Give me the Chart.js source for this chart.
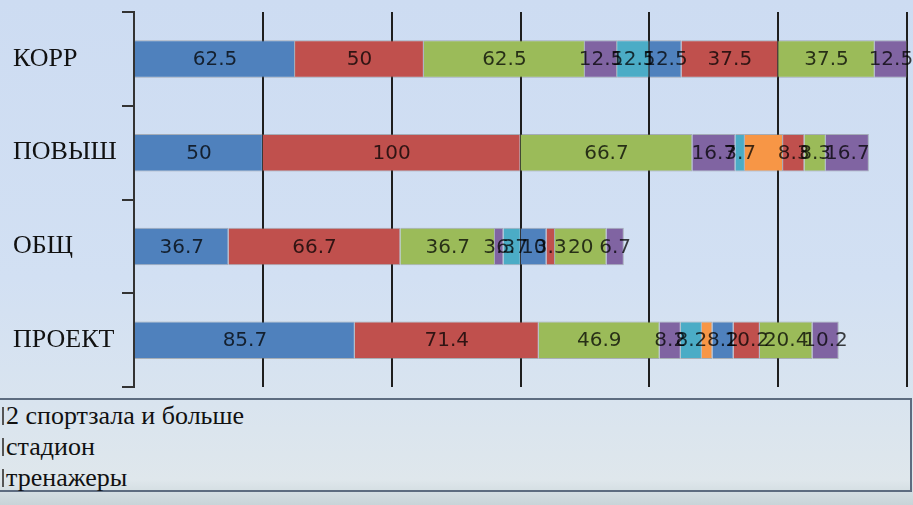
<!DOCTYPE html>
<html>
<head>
<meta charset="utf-8">
<script src="https://cdn.jsdelivr.net/npm/chart.js@4/dist/chart.umd.min.js"></script>
<style>
    html, body {
        margin: 0;
        padding: 0;
    }
    body {
        width: 913px;
        height: 505px;
        overflow: hidden;
        position: relative;
        background: linear-gradient(to bottom, #cddcf2 0%, #d2e0f3 55%, #d9e4ef 80%, #dfe7ec 95%, #c8d4d8 100%);
    }
    #chartBox {
        position: absolute;
        left: 0;
        top: 0;
        width: 913px;
        height: 395px;
    }
    #legend {
        position: absolute;
        left: -2px;
        top: 398px;
        width: 910px;
        height: 90px;
        border: 2px solid #5d6c80;
        font-family: "Liberation Serif", serif;
        font-size: 26px;
        color: #111;
    }
    #legend div {
        position: relative;
        height: 31px;
        line-height: 31px;
        padding-left: 6px;
    }
    #legend span {
        position: absolute;
        left: 2px;
        top: 7px;
        width: 2px;
        height: 18px;
        background: #555;
    }
</style>
</head>
<body>
<div id="chartBox"><canvas id="chart"></canvas></div>
<div id="legend"></div>

<script>
// categories (top to bottom)
const categories = ['КОРР', 'ПОВЫШ', 'ОБЩ', 'ПРОЕКТ'];

// stacked series, values per category
const series1 = [62.5, 50, 36.7, 85.7];
const series2 = [50, 100, 66.7, 71.4];
const series3 = [62.5, 66.7, 36.7, 46.9];
const series4 = [12.5, 16.7, 3.3, 8.2];
const series5 = [12.5, 3.7, 6.7, 8.2];
const series6 = [0, 14.8, 0, 4.1];
const series7 = [12.5, 0, 10, 8.2];
const series8 = [37.5, 8.3, 3.3, 10.2];
const series9 = [37.5, 8.3, 20, 20.4];
const series10 = [12.5, 16.7, 6.7, 10.2];

const seriesNames = ['2 спортзала и больше', 'стадион', 'тренажеры', 'серия 4', 'серия 5',
    'серия 6', 'серия 7', 'серия 8', 'серия 9', 'серия 10'];
const legendNames = ['2 спортзала и больше', 'стадион', 'тренажеры'];

// x axis
const xMin = 0;
const xMax = 300;
const xStep = 50;

const colors = ['#4f81bd', '#c0504d', '#9bbb59', '#8064a2', '#4bacc6',
    '#f79646', '#4f81bd', '#c0504d', '#9bbb59', '#8064a2'];
const allSeries = [series1, series2, series3, series4, series5,
    series6, series7, series8, series9, series10];
const noLabel = [5]; // orange segments carry no value label

const datasets = allSeries.map((vals, i) => ({
    label: seriesNames[i],
    data: vals,
    backgroundColor: colors[i],
    borderColor: 'rgba(110,110,110,0.45)',
    borderWidth: 1,
    categoryPercentage: 1,
    barPercentage: 0.4
}));

// draw the value labels in the middle of each segment
const valueLabels = {
    id: 'valueLabels',
    afterDatasetsDraw(chart) {
        const ctx = chart.ctx;
        ctx.save();
        ctx.font = '20px "DejaVu Sans", sans-serif';
        ctx.fillStyle = 'rgba(0,0,0,0.75)';
        ctx.textAlign = 'center';
        ctx.textBaseline = 'middle';
        chart.data.datasets.forEach((ds, i) => {
            if (noLabel.includes(i)) return;
            const meta = chart.getDatasetMeta(i);
            meta.data.forEach((bar, j) => {
                const v = ds.data[j];
                if (!v) return;
                ctx.fillText(String(v), (bar.x + bar.base) / 2, bar.y + 1);
            });
        });
        ctx.restore();
    }
};

new Chart(document.getElementById('chart'), {
    type: 'bar',
    data: {
        labels: categories,
        datasets: datasets
    },
    options: {
        indexAxis: 'y',
        responsive: true,
        maintainAspectRatio: false,
        animation: false,
        layout: {
            padding: { left: 13, right: 6, top: 12, bottom: 8 }
        },
        plugins: {
            legend: { display: false },
            tooltip: { enabled: false }
        },
        scales: {
            x: {
                stacked: true,
                min: xMin,
                max: xMax,
                ticks: { display: false, stepSize: xStep },
                border: { display: false },
                grid: {
                    color: '#1e1e1e',
                    lineWidth: 2,
                    drawTicks: false
                }
            },
            y: {
                stacked: true,
                border: { display: true, color: '#333', width: 2 },
                grid: {
                    drawOnChartArea: false,
                    drawTicks: true,
                    tickLength: 12,
                    color: '#333',
                    lineWidth: 2
                },
                ticks: {
                    crossAlign: 'far',
                    color: '#111',
                    font: { family: '"Liberation Serif", serif', size: 26 }
                },
                afterFit: function (scale) {
                    scale.width = 121;
                    scale.paddingTop = 0;
                    scale.paddingBottom = 0;
                }
            }
        }
    },
    plugins: [valueLabels]
});

const legend = document.getElementById('legend');
legendNames.forEach(name => {
    const row = document.createElement('div');
    row.innerHTML = '<span></span>' + name;
    legend.appendChild(row);
});
</script>
</body>
</html>
